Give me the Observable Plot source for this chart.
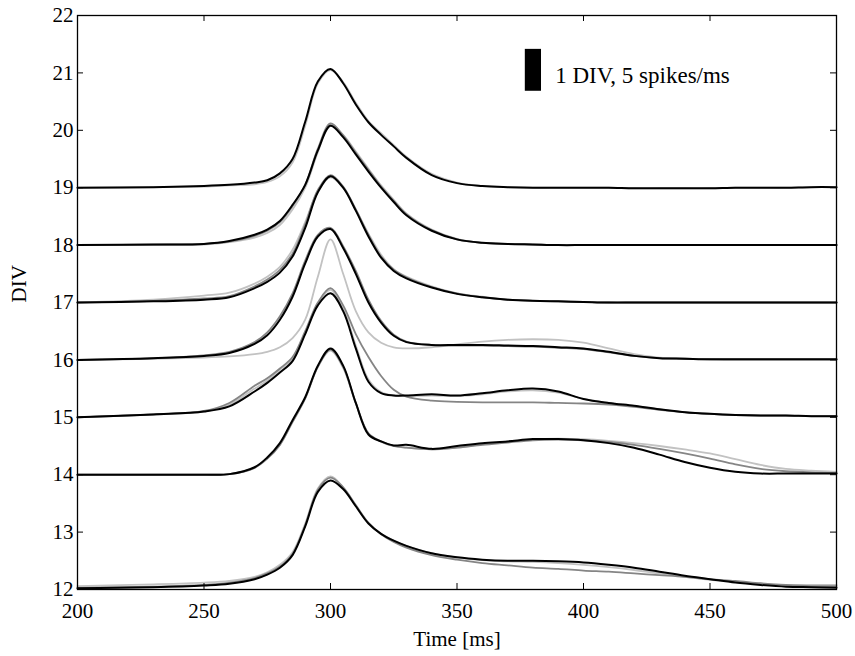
<!DOCTYPE html>
<html><head><meta charset="utf-8">
<script src="https://cdn.jsdelivr.net/npm/d3@7"></script>
<script src="https://cdn.jsdelivr.net/npm/@observablehq/plot@0.6"></script>
<style>body{margin:0;background:#fff}#chart{width:855px;height:656px}</style>
</head><body><div id="chart"></div>
<script>
const time = [200,230,250,260,270,275,280,285,290,295,300,305,310,315,320,325,330,340,350,360,370,380,390,400,410,420,430,440,450,460,470,480,490,500];

const div19Black = [19.00,19.01,19.03,19.05,19.09,19.13,19.25,19.50,20.15,20.85,21.07,20.82,20.45,20.14,19.92,19.72,19.52,19.22,19.08,19.03,19.01,19.00,19.00,19.00,19.00,18.99,18.99,18.99,18.99,19.00,19.00,19.00,19.01,19.01];
const div19Light = [19.00,19.01,19.02,19.04,19.06,19.10,19.20,19.44,20.08,20.82,21.05,20.84,20.48,20.16,19.95,19.74,19.54,19.24,19.09,19.03,19.01,19.00,19.00,19.00,19.00,18.99,18.99,18.99,18.99,19.00,19.00,19.00,19.01,19.01];

const div18Black = [18.00,18.01,18.02,18.07,18.18,18.27,18.42,18.70,19.05,19.65,20.08,19.88,19.58,19.28,19.00,18.75,18.52,18.25,18.10,18.04,18.02,18.01,18.00,18.00,18.00,18.00,18.00,18.00,18.00,18.00,18.00,18.00,18.00,18.00];
const div18Gray = [18.00,18.01,18.02,18.06,18.16,18.25,18.40,18.68,19.05,19.68,20.12,19.91,19.61,19.31,19.02,18.77,18.54,18.26,18.10,18.04,18.02,18.01,18.00,18.00,18.00,18.00,18.00,18.00,18.00,18.00,18.00,18.00,18.00,18.00];
const div18Light = [18.00,18.00,18.01,18.05,18.13,18.21,18.35,18.62,19.00,19.62,20.10,19.92,19.63,19.33,19.04,18.79,18.55,18.27,18.11,18.04,18.02,18.01,18.00,18.00,18.00,18.00,18.00,18.00,18.00,18.00,18.00,18.00,18.00,18.00];

const div17Black = [17.00,17.02,17.05,17.09,17.25,17.36,17.52,17.80,18.30,18.92,19.20,19.00,18.60,18.15,17.78,17.55,17.42,17.26,17.15,17.09,17.05,17.03,17.02,17.01,17.00,17.00,17.00,17.00,17.00,17.00,17.00,17.00,17.00,17.00];
const div17Gray = [17.00,17.03,17.07,17.11,17.28,17.40,17.57,17.85,18.36,18.96,19.22,19.02,18.62,18.18,17.80,17.57,17.44,17.27,17.16,17.09,17.05,17.03,17.02,17.01,17.00,17.00,17.00,17.00,17.00,17.00,17.00,17.00,17.00,17.00];
const div17Light = [17.00,17.05,17.12,17.17,17.33,17.45,17.62,17.92,18.40,18.94,19.18,19.00,18.62,18.20,17.83,17.58,17.45,17.28,17.16,17.10,17.05,17.03,17.02,17.01,17.00,17.00,17.00,17.00,17.00,17.00,17.00,17.00,17.00,17.00];

const div16Black = [16.00,16.03,16.07,16.12,16.28,16.43,16.70,17.10,17.68,18.15,18.28,17.95,17.50,17.00,16.65,16.42,16.31,16.26,16.26,16.26,16.25,16.24,16.22,16.20,16.14,16.07,16.03,16.02,16.01,16.01,16.01,16.01,16.01,16.01];
const div16Gray = [16.00,16.03,16.08,16.14,16.31,16.48,16.76,17.16,17.73,18.18,18.30,17.98,17.55,17.05,16.68,16.44,16.32,16.26,16.25,16.25,16.24,16.23,16.21,16.19,16.13,16.07,16.03,16.02,16.01,16.01,16.01,16.01,16.01,16.01];
const div16Light = [16.00,16.02,16.04,16.06,16.10,16.14,16.22,16.38,16.70,17.45,18.10,17.50,16.85,16.48,16.30,16.22,16.20,16.22,16.27,16.32,16.35,16.36,16.35,16.30,16.20,16.10,16.04,16.02,16.01,16.00,16.00,16.00,16.00,16.00];

const div15Black = [15.00,15.05,15.10,15.19,15.45,15.60,15.78,15.98,16.45,16.95,17.16,16.85,16.20,15.62,15.42,15.38,15.38,15.40,15.38,15.42,15.47,15.50,15.45,15.32,15.25,15.20,15.14,15.09,15.06,15.04,15.03,15.03,15.02,15.02];
const div15Gray = [15.00,15.05,15.11,15.25,15.55,15.68,15.85,16.05,16.50,17.00,17.25,16.95,16.45,16.05,15.72,15.48,15.36,15.29,15.27,15.26,15.26,15.26,15.25,15.24,15.22,15.18,15.13,15.09,15.06,15.04,15.03,15.03,15.02,15.02];
const div15Light = [15.00,15.05,15.10,15.22,15.50,15.64,15.83,16.02,16.48,16.98,17.22,16.90,16.25,15.66,15.44,15.38,15.37,15.38,15.37,15.40,15.45,15.47,15.43,15.32,15.25,15.20,15.14,15.09,15.06,15.04,15.03,15.03,15.02,15.02];

const div14Black = [14.00,14.00,14.00,14.01,14.13,14.30,14.55,14.95,15.35,15.90,16.20,15.90,15.25,14.70,14.58,14.51,14.52,14.45,14.50,14.55,14.58,14.62,14.62,14.60,14.55,14.47,14.35,14.22,14.12,14.05,14.02,14.02,14.02,14.02];
const div14Gray = [14.00,14.00,14.00,14.01,14.12,14.28,14.52,14.92,15.33,15.88,16.18,15.88,15.25,14.72,14.58,14.50,14.47,14.44,14.47,14.52,14.56,14.60,14.61,14.60,14.57,14.52,14.45,14.37,14.28,14.18,14.10,14.06,14.04,14.03];
const div14Light = [14.00,14.00,14.00,14.01,14.12,14.28,14.52,14.92,15.33,15.88,16.16,15.86,15.24,14.72,14.57,14.50,14.47,14.44,14.47,14.53,14.58,14.62,14.63,14.62,14.59,14.55,14.50,14.44,14.37,14.27,14.17,14.10,14.07,14.05];

const div12Black = [12.02,12.04,12.07,12.10,12.18,12.26,12.38,12.60,13.10,13.70,13.90,13.75,13.45,13.15,12.97,12.85,12.76,12.63,12.56,12.52,12.50,12.50,12.49,12.47,12.43,12.38,12.31,12.24,12.18,12.12,12.08,12.05,12.04,12.03];
const div12Gray = [12.03,12.05,12.08,12.12,12.20,12.28,12.40,12.62,13.12,13.74,13.95,13.78,13.47,13.16,12.96,12.83,12.73,12.60,12.52,12.46,12.42,12.38,12.36,12.33,12.31,12.28,12.25,12.22,12.18,12.15,12.11,12.08,12.06,12.06];
const div12Light = [12.06,12.09,12.12,12.15,12.22,12.30,12.43,12.65,13.15,13.76,13.97,13.78,13.46,13.16,12.97,12.85,12.76,12.63,12.56,12.51,12.49,12.48,12.46,12.43,12.39,12.34,12.28,12.22,12.17,12.13,12.10,12.08,12.08,12.08];

const xTicks = [200,250,300,350,400,450,500];
const yTicks = [12,13,14,15,16,17,18,19,20,21,22];
const legendText = ["1 DIV, 5 spikes/ms"];

const traces = [
  ["19", "light", div19Light], ["19", "black", div19Black],
  ["18", "light", div18Light], ["18", "gray", div18Gray], ["18", "black", div18Black],
  ["17", "light", div17Light], ["17", "gray", div17Gray], ["17", "black", div17Black],
  ["16", "light", div16Light], ["16", "gray", div16Gray], ["16", "black", div16Black],
  ["15", "light", div15Light], ["15", "gray", div15Gray], ["15", "black", div15Black],
  ["14", "light", div14Light], ["14", "gray", div14Gray], ["14", "black", div14Black],
  ["12", "light", div12Light], ["12", "gray", div12Gray], ["12", "black", div12Black]
];
const rows = [];
for (const [div, shade, vals] of traces) {
  vals.forEach((v, i) => rows.push({t: time[i], v, id: div + shade, shade}));
}
const shadeColor = {light: "#c2c2c2", gray: "#858585", black: "#000000"};
const W = 855, H = 656, mL = 77, mR = 19, mT = 15, mB = 67;
const pw = W - mL - mR, ph = H - mT - mB;
const font = "'Liberation Serif', 'Times New Roman', serif";

const lineMarks = ["light", "gray", "black"].map(s =>
  Plot.line(rows.filter(r => r.shade === s), {
    x: "t", y: "v", z: "id", stroke: shadeColor[s],
    strokeWidth: s === "black" ? 2 : 1.8, curve: "catmull-rom"
  })
);

const chart = Plot.plot({
  width: W, height: H, marginLeft: mL, marginRight: mR, marginTop: mT, marginBottom: mB,
  style: {fontFamily: font, fontSize: "21px", background: "white", color: "black"},
  x: {domain: [200, 500]},
  y: {domain: [12, 22]},
  marks: [
    ...lineMarks,
    Plot.tickX(xTicks, {x: d => d, insetTop: ph - 6, stroke: "black"}),
    Plot.tickX(xTicks, {x: d => d, insetBottom: ph - 6, stroke: "black"}),
    Plot.tickY(yTicks, {y: d => d, insetRight: pw - 6, stroke: "black"}),
    Plot.tickY(yTicks, {y: d => d, insetLeft: pw - 6, stroke: "black"}),
    Plot.frame({stroke: "black", strokeWidth: 1.3}),
    Plot.axisX(xTicks, {tickSize: 0, tickPadding: 14, label: null, tickFormat: d => String(d), fontSize: 21, fontFamily: font, fontVariant: "normal"}),
    Plot.axisY(yTicks, {tickSize: 0, tickPadding: 4, label: null, tickFormat: d => String(d), fontSize: 21, fontFamily: font, fontVariant: "normal"}),
    Plot.text(["Time [ms]"], {frameAnchor: "bottom", dy: 56, fontSize: 21, fontFamily: font}),
    Plot.text(["DIV"], {frameAnchor: "left", dx: -58, rotate: -90, fontSize: 21, fontFamily: font}),
    Plot.rect([{x1: 377, x2: 383.4, y1: 20.68, y2: 21.41}], {x1: "x1", x2: "x2", y1: "y1", y2: "y2", fill: "black"}),
    Plot.text(legendText, {x: 388.8, y: 20.96, textAnchor: "start", fontSize: 23, fontFamily: font})
  ]
});
document.getElementById("chart").appendChild(chart);
</script>
</body></html>
